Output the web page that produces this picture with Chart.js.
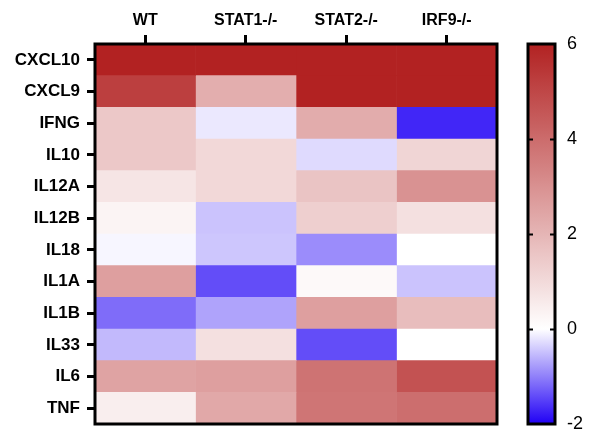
<!DOCTYPE html>
<html>
<head>
<meta charset="utf-8">
<script src="https://cdn.jsdelivr.net/npm/chart.js@4.4.1/dist/chart.umd.min.js"></script>
<style>
  html, body { margin: 0; padding: 0; background: #fff; }
  #wrap { width: 589px; height: 437px; }
</style>
</head>
<body>
<div id="wrap"><canvas id="heat" width="589" height="437"></canvas></div>
<script>
// genes (rows, top to bottom) and genotypes (columns)
const genes = ["CXCL10", "CXCL9", "IFNG", "IL10", "IL12A", "IL12B", "IL18", "IL1A", "IL1B", "IL33", "IL6", "TNF"];
const groups = ["WT", "STAT1-/-", "STAT2-/-", "IRF9-/-"];

// values per column, same order as genes
const wtVals    = [6.5, 5.2, 1.5, 1.5, 0.7, 0.3, -0.07, 2.6, -1.15, -0.55, 2.5, 0.45];
const stat1Vals = [6.5, 2.2, -0.18, 1.05, 1.05, -0.47, -0.45, -1.4, -0.72, 0.85, 2.6, 2.35];
const stat2Vals = [6.5, 6.5, 2.25, -0.29, 1.6, 1.3, -0.9, 0.15, 2.6, -1.4, 3.8, 3.75];
const irf9Vals  = [6.5, 6.5, -1.7, 1.15, 2.95, 0.85, 0, -0.47, 1.8, 0, 4.7, 3.95];

// colour scale
const scaleMin = -2, scaleMax = 6;
const scaleTicks = [-2, 0, 2, 4, 6];

const allVals = [wtVals, stat1Vals, stat2Vals, irf9Vals];
const RED = [178, 34, 34], BLUE = [32, 0, 245], WHITE = [255, 255, 255];

function colorFor(v) {
  v = Math.max(scaleMin, Math.min(scaleMax, v));
  const end = v >= 0 ? RED : BLUE;
  const t = v >= 0 ? v / scaleMax : v / scaleMin;
  const c = WHITE.map((w, i) => Math.round(w + (end[i] - w) * t));
  return `rgb(${c[0]},${c[1]},${c[2]})`;
}

// frame around the heatmap + colour bar drawn off the y2 scale
const framePlugin = {
  id: "frame",
  afterDraw(chart) {
    const { ctx, chartArea: a, scales } = chart;
    ctx.save();
    ctx.strokeStyle = "#000";
    ctx.lineWidth = 3;
    ctx.strokeRect(a.left, a.top, a.right - a.left, a.bottom - a.top);

    // colour bar
    const cb = scales.y2;
    const x0 = a.right + 31, x1 = a.right + 58;
    const yTop = cb.getPixelForValue(scaleMax), yBot = cb.getPixelForValue(scaleMin);
    const grad = ctx.createLinearGradient(0, yBot, 0, yTop);
    for (let v = scaleMin; v <= scaleMax; v += 0.25) {
      grad.addColorStop((v - scaleMin) / (scaleMax - scaleMin), colorFor(v));
    }
    ctx.fillStyle = grad;
    ctx.fillRect(x0, yTop, x1 - x0, yBot - yTop);
    ctx.strokeRect(x0, yTop, x1 - x0, yBot - yTop);

    // small inner ticks
    ctx.lineWidth = 2;
    scaleTicks.slice(1, -1).forEach(v => {
      const y = Math.round(cb.getPixelForValue(v)) + 0.5;
      ctx.beginPath();
      ctx.moveTo(x0, y); ctx.lineTo(x0 + 5, y);
      ctx.moveTo(x1 - 5, y); ctx.lineTo(x1, y);
      ctx.stroke();
    });
    ctx.restore();
  }
};

const fam = "'Liberation Sans', Arial, sans-serif";

new Chart(document.getElementById("heat"), {
  type: "bar",
  data: {
    labels: genes,
    datasets: groups.map((g, j) => ({
      label: g,
      data: genes.map(() => 1),
      backgroundColor: allVals[j].map(colorFor),
      borderWidth: 0,
      barPercentage: 1,
      categoryPercentage: 1
    }))
  },
  options: {
    indexAxis: "y",
    responsive: false,
    animation: false,
    devicePixelRatio: 1,
    layout: { padding: { bottom: 13 } },
    plugins: { legend: { display: false }, tooltip: { enabled: false } },
    scales: {
      x: {
        type: "linear",
        position: "top",
        stacked: true,
        min: 0, max: groups.length,
        afterBuildTicks: (s) => { s.ticks = groups.map((g, i) => ({ value: i + 0.5 })); },
        afterFit: (s) => { s.height = 44; s.paddingLeft = 0; s.paddingRight = 0; },
        ticks: {
          callback: (v) => groups[Math.floor(v)],
          color: "#000", font: { family: fam, size: 16, weight: "bold" },
          padding: 5, maxRotation: 0, autoSkip: false
        },
        grid: { drawOnChartArea: false, tickLength: 9, tickWidth: 3, tickColor: "#000" },
        border: { display: false }
      },
      y: {
        type: "category",
        stacked: true,
        offset: true,
        afterFit: (s) => { s.width = 95; s.paddingTop = 0; s.paddingBottom = 0; },
        ticks: { color: "#000", font: { family: fam, size: 17, weight: "bold" }, padding: 7, autoSkip: false },
        grid: { offset: false, drawOnChartArea: false, tickLength: 8, tickWidth: 3, tickColor: "#000" },
        border: { display: false }
      },
      y2: {
        type: "linear",
        position: "right",
        offset: false,
        min: scaleMin, max: scaleMax,
        afterBuildTicks: (s) => { s.ticks = scaleTicks.map(v => ({ value: v })); },
        afterFit: (s) => { s.width = 92; s.paddingTop = 0; s.paddingBottom = 0; },
        ticks: { color: "#000", font: { family: fam, size: 18 }, padding: 70 },
        grid: { offset: false, drawOnChartArea: false, drawTicks: false },
        border: { display: false }
      }
    }
  },
  plugins: [framePlugin]
});
</script>
</body>
</html>
